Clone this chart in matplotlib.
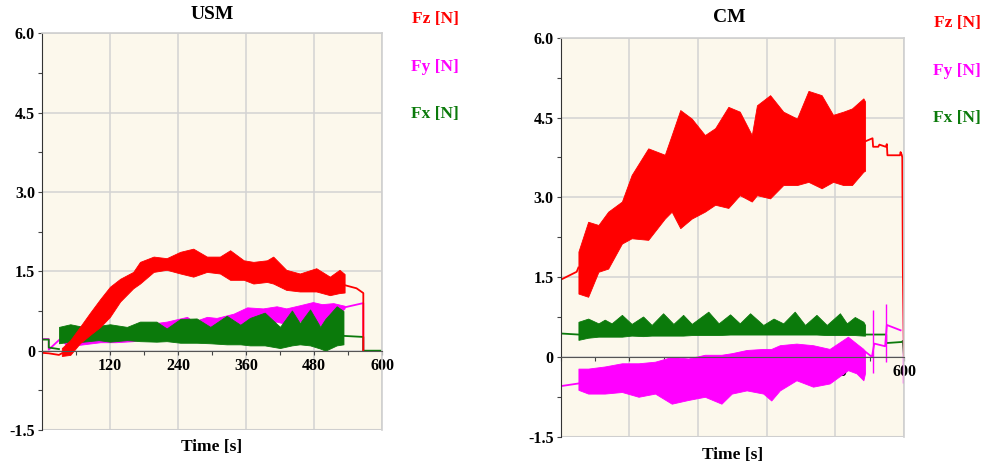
import matplotlib.pyplot as plt
from matplotlib.ticker import MultipleLocator, FixedLocator

# ---- USM: noisy bands read as (time, lower, upper), plus quiet segments ----
usm_fz_t = [35, 50, 67, 85, 103, 120, 138, 161, 173, 197, 220, 244, 267, 291, 314,
            332, 356, 373, 397, 408, 431, 455, 484, 508, 525, 534]
usm_fz_lo = [-0.1, -0.08, 0.14, 0.3, 0.45, 0.64, 0.93, 1.18, 1.27, 1.49, 1.53, 1.46, 1.4,
             1.49, 1.46, 1.34, 1.34, 1.27, 1.3, 1.27, 1.15, 1.12, 1.12, 1.05, 1.09, 1.1]
usm_fz_hi = [0.05, 0.2, 0.45, 0.72, 0.98, 1.21, 1.36, 1.49, 1.68, 1.78, 1.75, 1.87, 1.93,
             1.78, 1.78, 1.9, 1.71, 1.68, 1.71, 1.78, 1.53, 1.46, 1.56, 1.4, 1.53, 1.45]
usm_fz_pre_t = [0, 12, 30, 35]
usm_fz_pre = [-0.04, -0.05, -0.08, -0.05]
usm_fz_post_t = [534, 555, 567, 567]
usm_fz_post = [1.24, 1.18, 1.09, 0.0]

usm_fy_t = [35, 44, 73, 103, 130, 161, 185, 220, 256, 267, 291, 308, 338, 362, 390,
            414, 431, 455, 478, 494, 514, 534]
usm_fy_lo = [0.2, 0.08, 0.12, 0.16, 0.16, 0.18, 0.25, 0.3, 0.35, 0.37, 0.4, 0.42, 0.45,
             0.5, 0.52, 0.55, 0.5, 0.55, 0.6, 0.45, 0.6, 0.8]
usm_fy_hi = [0.25, 0.3, 0.33, 0.38, 0.4, 0.42, 0.5, 0.55, 0.64, 0.55, 0.64, 0.62, 0.7,
             0.82, 0.8, 0.84, 0.8, 0.86, 0.92, 0.88, 0.9, 0.85]
usm_fy_pre_t = [0, 12, 12, 38]
usm_fy_pre = [0.22, 0.22, 0.02, 0.28]
usm_fy_post_t = [534, 567, 567]
usm_fy_post = [0.82, 0.9, 0.0]

usm_fx_t = [30, 50, 73, 100, 120, 150, 173, 202, 220, 244, 273, 297, 326, 350, 367,
            393, 420, 441, 455, 473, 491, 500, 520, 532]
usm_fx_lo = [0.14, 0.17, 0.17, 0.2, 0.17, 0.2, 0.18, 0.17, 0.18, 0.15, 0.15, 0.14, 0.12,
             0.12, 0.1, 0.1, 0.05, 0.1, 0.12, 0.1, 0.04, 0.0, 0.1, 0.12]
usm_fx_hi = [0.45, 0.5, 0.45, 0.47, 0.5, 0.45, 0.55, 0.55, 0.42, 0.6, 0.61, 0.45, 0.66,
             0.49, 0.62, 0.72, 0.45, 0.76, 0.52, 0.78, 0.45, 0.6, 0.84, 0.75]
usm_fx_pre_t = [0, 12, 12, 30]
usm_fx_pre = [0.21, 0.21, 0.06, 0.03]
usm_fx_post_t = [532, 567, 567, 600]
usm_fx_post = [0.28, 0.26, 0.0, 0.0]

# ---- CM ----
cm_fz_t = [31, 48, 66, 83, 107, 124, 153, 182, 194, 209, 229, 252, 270, 293, 313, 334,
           343, 366, 389, 413, 433, 456, 476, 494, 509, 529, 532]
cm_fz_lo = [1.19, 1.13, 1.6, 1.66, 2.13, 2.23, 2.2, 2.6, 2.73, 2.42, 2.6, 2.73, 2.86, 2.8,
            3.04, 2.92, 3.04, 2.98, 3.23, 3.23, 3.29, 3.17, 3.29, 3.23, 3.23, 3.48, 3.5]
cm_fz_hi = [1.98, 2.54, 2.48, 2.73, 2.92, 3.42, 3.92, 3.8, 4.17, 4.64, 4.48, 4.17, 4.3,
            4.7, 4.61, 4.17, 4.73, 4.92, 4.61, 4.48, 5.0, 4.92, 4.55, 4.61, 4.67, 4.86, 4.8]
cm_fz_pre_t = [0, 0, 28, 31]
cm_fz_pre = [1.1, 1.45, 1.6, 1.68]
cm_fz_post_t = [532, 545, 546, 555, 557, 568, 570, 571, 593, 594, 596, 597, 598, 600]
cm_fz_post = [4.05, 4.11, 3.95, 3.95, 3.99, 3.95, 4.0, 3.79, 3.79, 3.85, 3.8, 3.75, 1.6, 0.0]

cm_fy_t = [31, 48, 77, 107, 136, 165, 194, 223, 252, 281, 299, 325, 354, 368, 383, 412,
           441, 470, 502, 517, 529, 532]
cm_fy_lo = [-0.62, -0.69, -0.69, -0.66, -0.75, -0.69, -0.88, -0.81, -0.75, -0.88, -0.69,
            -0.63, -0.69, -0.82, -0.63, -0.44, -0.56, -0.5, -0.25, -0.31, -0.44, -0.3]
cm_fy_hi = [-0.22, -0.22, -0.18, -0.12, -0.12, -0.09, 0.0, -0.03, 0.04, 0.04, 0.07, 0.13,
            0.15, 0.15, 0.22, 0.25, 0.22, 0.15, 0.38, 0.25, 0.15, 0.1]
cm_fy_pre_t = [0, 31]
cm_fy_pre = [-0.55, -0.5]
cm_fy_post_t = [532, 544, 548, 567, 570, 594]
cm_fy_post = [0.1, 0.0, 0.25, 0.2, 0.6, 0.5]
cm_fy_spike_t = [546, 569, 598]
cm_fy_spike_lo = [-0.3, -0.1, -0.5]
cm_fy_spike_hi = [0.88, 1.0, 1.3]

cm_fx_t = [31, 48, 66, 77, 89, 107, 124, 144, 159, 179, 197, 214, 229, 258, 276, 296,
           313, 331, 354, 372, 389, 409, 427, 447, 465, 488, 500, 514, 529, 532]
cm_fx_lo = [0.32, 0.36, 0.38, 0.38, 0.38, 0.38, 0.4, 0.39, 0.4, 0.4, 0.4, 0.4, 0.41,
            0.41, 0.41, 0.42, 0.42, 0.42, 0.42, 0.42, 0.42, 0.42, 0.42, 0.42, 0.41,
            0.41, 0.41, 0.41, 0.4, 0.4]
cm_fx_hi = [0.66, 0.72, 0.63, 0.7, 0.63, 0.79, 0.62, 0.76, 0.6, 0.82, 0.62, 0.79, 0.62,
            0.85, 0.63, 0.8, 0.63, 0.82, 0.6, 0.72, 0.63, 0.85, 0.6, 0.79, 0.6, 0.82,
            0.63, 0.75, 0.66, 0.6]
cm_fx_pre_t = [0, 31]
cm_fx_pre = [0.44, 0.42]
cm_fx_post_t = [532, 569, 569, 596, 598, 600]
cm_fx_post = [0.42, 0.42, 0.26, 0.28, 0.3, 0.0]

ytick_vals = [-1.5, 0, 1.5, 3.0, 4.5, 6.0]
ytick_labels = ["-1.5", "0", "1.5", "3.0", "4.5", "6.0"]
xtick_vals = [120, 240, 360, 480, 600]
legend_labels = ["Fz [N]", "Fy [N]", "Fx [N]"]

RED = "#ff0000"
MAG = "#ff00ff"
GRN = "#0b7a0b"
SERIF = "Liberation Serif"

fig = plt.figure(figsize=(9.92, 4.65), dpi=100)


def setup(ax):
    ax.set_facecolor("#fcf8ec")
    ax.set_xlim(0, 600)
    ax.set_ylim(-1.5, 6.0)
    ax.grid(True, color="#d3d3d3", lw=1.1)
    ax.yaxis.set_major_locator(FixedLocator(ytick_vals))
    ax.set_yticklabels(ytick_labels)
    ax.yaxis.set_minor_locator(MultipleLocator(0.75))
    ax.xaxis.set_major_locator(FixedLocator(xtick_vals))
    ax.xaxis.set_minor_locator(MultipleLocator(60))
    ax.spines["bottom"].set_position(("data", 0))
    ax.spines["bottom"].set_color("#555555")
    ax.spines["left"].set_color("#333333")
    for s in ("top", "right"):
        ax.spines[s].set_color("#cfcfcf")
        ax.spines[s].set_linewidth(1.2)
    ax.axhline(-1.5, color="#cfcfcf", lw=1.5, zorder=1.6)
    ax.tick_params(which="both", direction="out", length=3, width=0.8, color="#444444",
                   pad=2)
    for lab in ax.get_xticklabels() + ax.get_yticklabels():
        lab.set_fontfamily(SERIF)
        lab.set_fontweight("bold")
        lab.set_fontsize(11.5)


def band(ax, t, lo, hi, color):
    ax.fill_between(t, lo, hi, color=color, lw=0.6, edgecolor=color, zorder=2)


def line(ax, t, v, color):
    ax.plot(t, v, color=color, lw=1.3, zorder=2)


# USM panel
ax1 = fig.add_axes([0.0423, 0.0753, 0.3428, 0.8527])
setup(ax1)
band(ax1, usm_fy_t, usm_fy_lo, usm_fy_hi, MAG)
line(ax1, usm_fy_pre_t, usm_fy_pre, MAG)
line(ax1, usm_fy_post_t, usm_fy_post, MAG)
band(ax1, usm_fx_t, usm_fx_lo, usm_fx_hi, GRN)
line(ax1, usm_fx_pre_t, usm_fx_pre, GRN)
line(ax1, usm_fx_post_t, usm_fx_post, GRN)
band(ax1, usm_fz_t, usm_fz_lo, usm_fz_hi, RED)
line(ax1, usm_fz_pre_t, usm_fz_pre, RED)
line(ax1, usm_fz_post_t, usm_fz_post, RED)

# CM panel
ax2 = fig.add_axes([0.5652, 0.0609, 0.3461, 0.858])
setup(ax2)
band(ax2, cm_fx_t, cm_fx_lo, cm_fx_hi, GRN)
line(ax2, cm_fx_pre_t, cm_fx_pre, GRN)
line(ax2, cm_fx_post_t, cm_fx_post, GRN)
band(ax2, cm_fy_t, cm_fy_lo, cm_fy_hi, MAG)
line(ax2, cm_fy_pre_t, cm_fy_pre, MAG)
line(ax2, cm_fy_post_t, cm_fy_post, MAG)
ax2.vlines(cm_fy_spike_t, cm_fy_spike_lo, cm_fy_spike_hi, color=MAG, lw=1, zorder=2)
band(ax2, cm_fz_t, cm_fz_lo, cm_fz_hi, RED)
line(ax2, cm_fz_pre_t, cm_fz_pre, RED)
line(ax2, cm_fz_post_t, cm_fz_post, RED)

# titles, axis labels, legend text
txt = dict(family=SERIF, fontweight="bold")
fig.text(0.2137, 0.968, "USM", ha="center", va="center", fontsize=14, **txt)
fig.text(0.735, 0.963, "CM", ha="center", va="center", fontsize=14, **txt)
fig.text(0.2137, 0.038, "Time [s]", ha="center", va="center", fontsize=12.5, **txt)
fig.text(0.738, 0.021, "Time [s]", ha="center", va="center", fontsize=12.5, **txt)

for x, ys in ((0.4385, (0.959, 0.856, 0.755)), (0.9647, (0.951, 0.847, 0.746))):
    for lab, c, y in zip(legend_labels, (RED, MAG, GRN), ys):
        fig.text(x, y, lab, ha="center", va="center", fontsize=12.5, color=c, **txt)

fig.savefig("out.png", dpi=100)
